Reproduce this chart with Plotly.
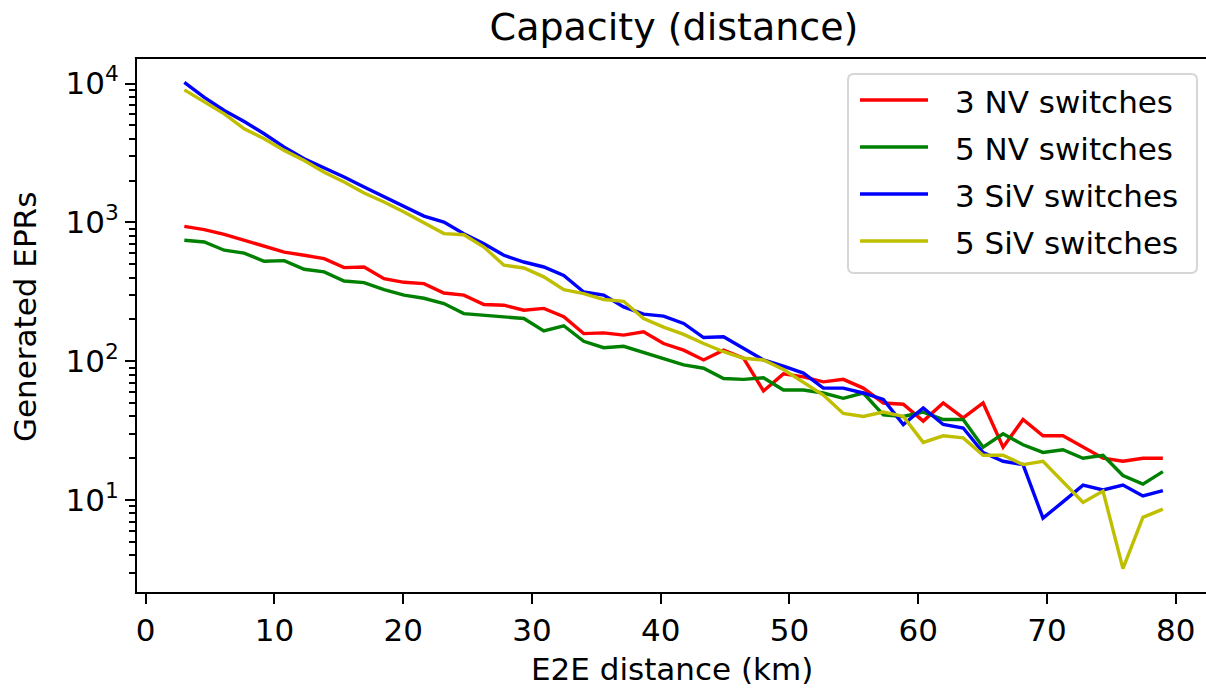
import plotly.graph_objects as go

distance_km = [3.00, 4.55, 6.10, 7.65, 9.20, 10.76, 12.31, 13.86, 15.41, 16.96,
               18.51, 20.06, 21.61, 23.16, 24.71, 26.27, 27.82, 29.37, 30.92, 32.47,
               34.02, 35.57, 37.12, 38.67, 40.22, 41.78, 43.33, 44.88, 46.43, 47.98,
               49.53, 51.08, 52.63, 54.18, 55.73, 57.29, 58.84, 60.39, 61.94, 63.49,
               65.04, 66.59, 68.14, 69.69, 71.24, 72.80, 74.35, 75.90, 77.45, 79.00]

nv3 = [935, 886, 820, 743, 676, 611, 579, 548, 472, 477,
       393, 370, 362, 310, 299, 256, 253, 233, 240, 209,
       158, 160, 154, 163, 134, 120, 102, 120, 105, 61,
       81, 77, 71, 74, 64, 50, 49, 37, 50, 39,
       50, 24, 38, 29, 29, 24, 20, 19, 20, 20]

nv5 = [743, 722, 630, 601, 524, 530, 459, 440, 378, 368,
       328, 299, 284, 260, 220, 214, 206, 203, 165, 180,
       139, 125, 128, 115, 104, 94, 89, 75, 74, 76,
       62, 62, 59, 54, 59, 41, 40, 43, 38, 38,
       24, 30, 25, 22, 23, 20, 21, 15, 13, 16]

siv3 = [10200, 7950, 6390, 5330, 4350, 3480, 2870, 2470, 2120, 1795,
        1537, 1310, 1110, 1005, 828, 702, 579, 518, 477, 415,
        315, 299, 246, 218, 211, 187, 148, 150, 123, 102,
        92, 82, 64, 64, 59, 53, 35, 46, 35, 33,
        22, 19, 18, 7.4, 9.7, 12.8, 11.8, 12.8, 10.7, 11.7]

siv5 = [9000, 7330, 6050, 4720, 4000, 3300, 2790, 2300, 1950, 1625,
        1400, 1186, 1000, 830, 815, 664, 491, 469, 405, 328,
        307, 278, 270, 203, 176, 156, 134, 117, 105, 102,
        87, 71, 57, 42, 40, 43, 40, 26, 29, 28,
        21, 21, 18, 19, 13.6, 9.6, 11.6, 3.2, 7.5, 8.6]

series_names = ["3 NV switches", "5 NV switches", "3 SiV switches", "5 SiV switches"]
series_values = [nv3, nv5, siv3, siv5]
series_colors = ["#ff0000", "#008000", "#0000ff", "#bfbf00"]

x_ticks = [0, 10, 20, 30, 40, 50, 60, 70, 80]
y_ticks = [10, 100, 1000, 10000]
y_ticktext = ["10<sup>1</sup>", "10<sup>2</sup>", "10<sup>3</sup>", "10<sup>4</sup>"]
y_minor = [m * d for d in [1, 10, 100, 1000] for m in range(2, 10)]

FONT = "DejaVu Sans"
W, H = 1206, 690
L, R, T, B = 136, 0, 58, 97
PW, PH = W - L - R, H - T - B


def px_x(px):  # screenshot pixel -> paper x
    return (px - L) / PW


def px_y(py):  # screenshot pixel -> paper y
    return (H - B - py) / PH


fig = go.Figure()
for name, vals, col in zip(series_names, series_values, series_colors):
    fig.add_trace(go.Scatter(x=distance_km, y=vals, mode="lines", name=name,
                             line=dict(color=col, width=3.4), showlegend=False))

fig.update_layout(
    width=W, height=H,
    margin=dict(l=L, r=R, t=T, b=B),
    paper_bgcolor="white", plot_bgcolor="white",
    font=dict(family=FONT, size=31, color="black"),
    title=dict(text="Capacity (distance)", font=dict(family=FONT, size=38, color="black"),
               x=674 / W, xref="container", xanchor="center",
               y=1 - 27 / H, yref="container", yanchor="middle"),
)

fig.update_xaxes(range=[-0.753, 82.35], tickvals=x_ticks, ticks="outside", ticklen=10, tickwidth=2,
                 tickcolor="black", showline=False, mirror=False,
                 showgrid=False, zeroline=False, tickfont=dict(family=FONT, size=31))
fig.update_yaxes(type="log", range=[0.33, 4.184], tickvals=y_ticks, ticktext=y_ticktext,
                 ticks="outside", ticklen=10, tickwidth=2, tickcolor="black",
                 minor=dict(tickvals=y_minor, ticks="outside", ticklen=6, tickwidth=1.5,
                            tickcolor="black", showgrid=False),
                 showline=False, mirror=False,
                 showgrid=False, zeroline=False, tickfont=dict(family=FONT, size=31))

# spines: left, bottom, top (the right spine lies outside the picture)
spine = dict(color="black", width=2)
fig.add_shape(type="line", xref="paper", yref="paper", x0=-0.001, x1=1, y0=1, y1=1,
              line=spine, layer="above")
fig.add_shape(type="line", xref="paper", yref="paper", x0=-0.001, x1=1, y0=0, y1=0,
              line=spine, layer="above")
fig.add_shape(type="line", xref="paper", yref="paper", x0=0, x1=0, y0=-0.002, y1=1.002,
              line=spine, layer="above")

# axis labels
fig.add_annotation(text="E2E distance (km)", xref="paper", yref="paper",
                   x=px_x(672), y=px_y(669), xanchor="center", yanchor="middle",
                   showarrow=False, font=dict(family=FONT, size=31))
fig.add_annotation(text="Generated EPRs", xref="paper", yref="paper",
                   x=px_x(25), y=px_y(317), xanchor="center", yanchor="middle",
                   textangle=-90, showarrow=False, font=dict(family=FONT, size=31))

# legend box (rounded)
bx0, bx1, by0, by1, rad = 848, 1197, 74, 273, 6
rx, ry = rad / PW, rad / PH
X0, X1, Y0, Y1 = px_x(bx0), px_x(bx1), px_y(by1), px_y(by0)
path = (f"M {X0+rx},{Y0} L {X1-rx},{Y0} Q {X1},{Y0} {X1},{Y0+ry} "
        f"L {X1},{Y1-ry} Q {X1},{Y1} {X1-rx},{Y1} L {X0+rx},{Y1} "
        f"Q {X0},{Y1} {X0},{Y1-ry} L {X0},{Y0+ry} Q {X0},{Y0} {X0+rx},{Y0} Z")
fig.add_shape(type="path", path=path, xref="paper", yref="paper",
              line=dict(color="#d6d6d6", width=2), fillcolor="rgba(255,255,255,0.8)", layer="above")

row_y = [100, 147, 194, 241]
for name, col, ry_px in zip(series_names, series_colors, row_y):
    fig.add_shape(type="line", xref="paper", yref="paper",
                  x0=px_x(860), x1=px_x(928), y0=px_y(ry_px), y1=px_y(ry_px),
                  line=dict(color=col, width=3.4), layer="above")
    fig.add_annotation(text=name, xref="paper", yref="paper", x=px_x(953), y=px_y(ry_px + 2),
                       xanchor="left", yanchor="middle", showarrow=False,
                       font=dict(family=FONT, size=31))

fig.write_html("out.html", config={"displayModeBar": False},
               post_script="document.body.style.margin='0';document.body.style.overflow='hidden';")
